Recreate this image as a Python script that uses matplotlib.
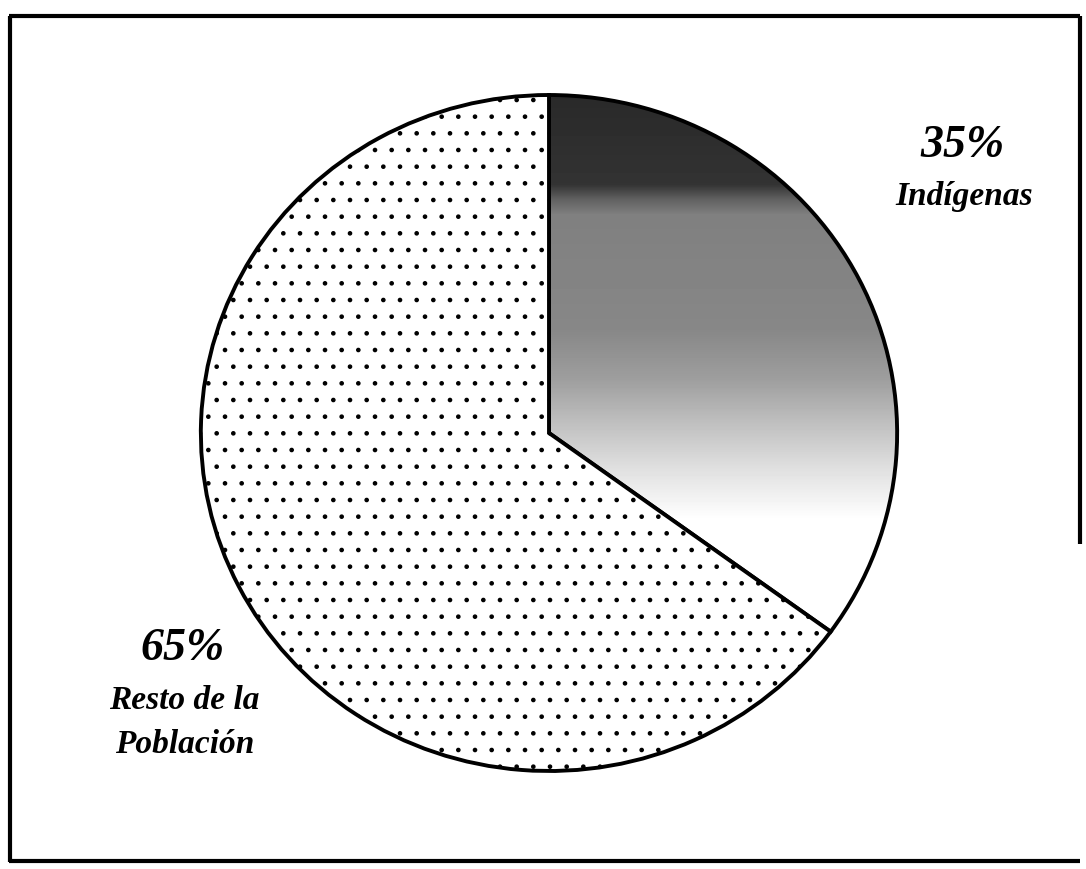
import numpy as np
import matplotlib
matplotlib.use("Agg")
import matplotlib.pyplot as plt
from matplotlib.colors import LinearSegmentedColormap
from matplotlib.transforms import Affine2D

# Data
categories = ["Indígenas", "Resto de la\nPoblación"]
values = [35, 65]
pct_labels = ["35%", "65%"]

W, H = 1086, 870
fig = plt.figure(figsize=(W / 100, H / 100), dpi=100)
ax = fig.add_axes([0, 0, 1, 1])
ax.set_xlim(0, W)
ax.set_ylim(0, H)

def Y(y):
    return H - y

cx, cy, r = 549, Y(434), 338
xstretch = 1.03
plt.rcParams['hatch.color'] = '#6a6a6a'
plt.rcParams['hatch.linewidth'] = 0.9

wedges, _ = ax.pie(values, startangle=90, counterclock=False,
                   center=(cx, cy), radius=r,
                   wedgeprops=dict(edgecolor='black', linewidth=2.8))
ax.set_xlim(0, W)
ax.set_ylim(0, H)
ax.set_aspect('auto')
tr = Affine2D().translate(-cx, -cy).scale(xstretch, 1.0).translate(cx, cy) + ax.transData
for w in wedges:
    w.set_transform(tr)
wedges[0].set_facecolor('none')
wedges[1].set_facecolor('white')
wedges[1].set_hatch('.')

# gradient fill for the Indígenas wedge (dark at top, fading to white)
ys = np.arange(90, 660)
stops_y = [90, 185, 200, 215, 330, 380, 420, 470, 520, 660]
stops_v = [0.16, 0.20, 0.38, 0.50, 0.53, 0.62, 0.74, 0.88, 1.0, 1.0]
vals = np.interp(ys, stops_y, stops_v)
img = np.tile(vals[:, None], (1, 380))
cmap = LinearSegmentedColormap.from_list('g', ['black', 'white'])
im = ax.imshow(img, cmap=cmap, vmin=0, vmax=1, origin='upper',
               extent=(540, 920, Y(660), Y(90)), aspect='auto', zorder=0.5,
               interpolation='bilinear')
im.set_clip_path(wedges[0])
wedges[0].set_zorder(1)

# frame
fk = dict(color='black', lw=3.0, solid_capstyle='butt')
ax.plot([9, 1080], [Y(17), Y(17)], **fk)
ax.plot([9.5, 9.5], [Y(17), Y(863)], **fk)
ax.plot([9, 1080], [Y(862), Y(862)], **fk)
ax.plot([1080, 1080], [Y(17), Y(545)], **fk)

font = dict(family='Liberation Serif', weight='bold', style='italic')
ax.text(962, Y(157), pct_labels[0], fontsize=33, ha='center', va='baseline', **font)
ax.text(964, Y(205), categories[0], fontsize=24, ha='center', va='baseline', **font)
ax.text(183, Y(660), pct_labels[1], fontsize=33, ha='center', va='baseline', **font)
ax.text(184, Y(709), "Resto de la", fontsize=24, ha='center', va='baseline', **font)
ax.text(185, Y(753), "Población", fontsize=24, ha='center', va='baseline', **font)

ax.set_xlim(0, W)
ax.set_ylim(0, H)
ax.axis('off')
fig.savefig('out.png', dpi=100)
